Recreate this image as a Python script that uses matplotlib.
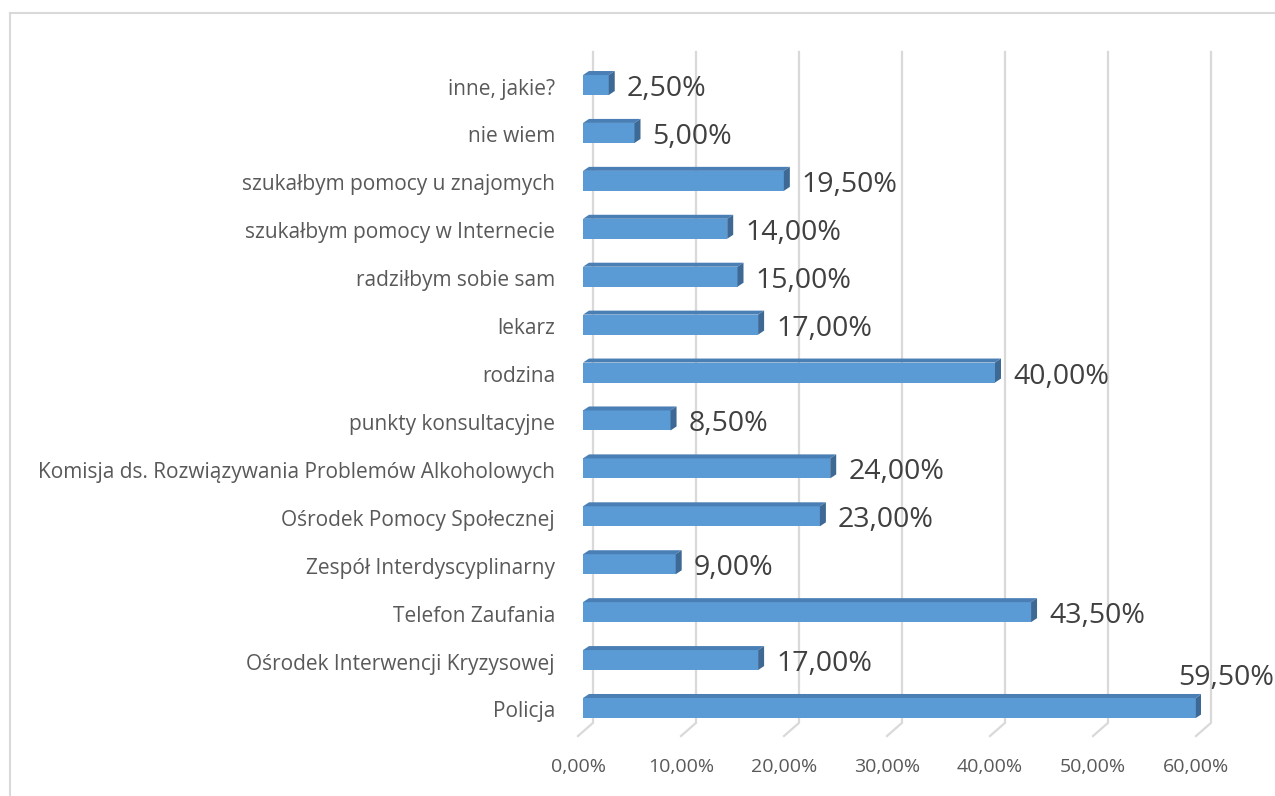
import matplotlib.pyplot as plt
from matplotlib.patches import Polygon
from matplotlib.lines import Line2D

categories = ["Policja", "Ośrodek Interwencji Kryzysowej", "Telefon Zaufania",
              "Zespół Interdyscyplinarny", "Ośrodek Pomocy Społecznej",
              "Komisja ds. Rozwiązywania Problemów Alkoholowych",
              "punkty konsultacyjne", "rodzina", "lekarz", "radziłbym sobie sam",
              "szukałbym pomocy w Internecie", "szukałbym pomocy u znajomych",
              "nie wiem", "inne, jakie?"]
values = [59.5, 17.0, 43.5, 9.0, 23.0, 24.0, 8.5, 40.0, 17.0, 15.0, 14.0, 19.5, 5.0, 2.5]
ticks = [0, 10, 20, 30, 40, 50, 60]

W, H = 1275, 796
plt.rcParams['font.family'] = ['Open Sans', 'DejaVu Sans']

fig = plt.figure(figsize=(W / 100, H / 100), dpi=100)
fig.patch.set_facecolor('white')

# axes placed in pixel units: x 583..1201, y 45..740 (from top)
ax = fig.add_axes([583 / W, (H - 740) / H, 618 / W, 695 / H])
ax.set_xlim(0, 60)
ax.set_ylim(-0.668, 13.835)
ax.axis('off')

px_x = 618 / 60.0      # pixels per percent
px_y = 695 / 14.503    # pixels per category step
DX, DY = 6 / px_x, 4 / px_y   # 3d depth of the bars
bar_h = 20 / px_y

grid_c = '#D9D9D9'
y_top, y_floor, y_front = 13.69, -0.31, -0.585
for t in ticks:
    xb = t + 10 / px_x
    xf = t - 5 / px_x
    ax.plot([xb, xb, xf], [y_top, y_floor, y_front], color=grid_c, lw=1.6,
            clip_on=False, zorder=1, solid_joinstyle='miter')
    ax.text(xf, -1.23, f"{t:.2f}%".replace('.', ','), ha='center', va='center',
            fontsize=14, color='#595959')

front_c, top_c, side_c = '#5B9BD5', '#4A7FB5', '#3D6994'
for i, (cat, v) in enumerate(zip(categories, values)):
    b, t = i - bar_h / 2, i + bar_h / 2
    ax.barh(i, v, height=bar_h, color=front_c, zorder=3)
    ax.add_patch(Polygon([(0, t), (v, t), (v + DX, t + DY), (DX, t + DY)],
                         closed=True, color=top_c, zorder=3, lw=0))
    ax.add_patch(Polygon([(v, b), (v, t), (v + DX, t + DY), (v + DX, b + DY)],
                         closed=True, color=side_c, zorder=3, lw=0))
    ax.text(-28 / px_x, i - 4 / px_y, cat, ha='right', va='center',
            fontsize=15, color='#595959')
    label = f"{v:.2f}%".replace('.', ',')
    if v == max(values):
        ax.text(v - 18 / px_x, i + 30 / px_y, label, ha='left', va='center',
                fontsize=20.5, color='#404040', clip_on=False)
    else:
        ax.text(v + DX + 12 / px_x, i - 4 / px_y, label, ha='left', va='center',
                fontsize=20.5, color='#404040')

# chart area border
fig.add_artist(Line2D([10 / W, 1], [(H - 13) / H] * 2, color=grid_c, lw=1.5))
fig.add_artist(Line2D([10 / W] * 2, [0, (H - 13) / H], color=grid_c, lw=1.5))

fig.savefig('out.png', dpi=100, facecolor='white')
